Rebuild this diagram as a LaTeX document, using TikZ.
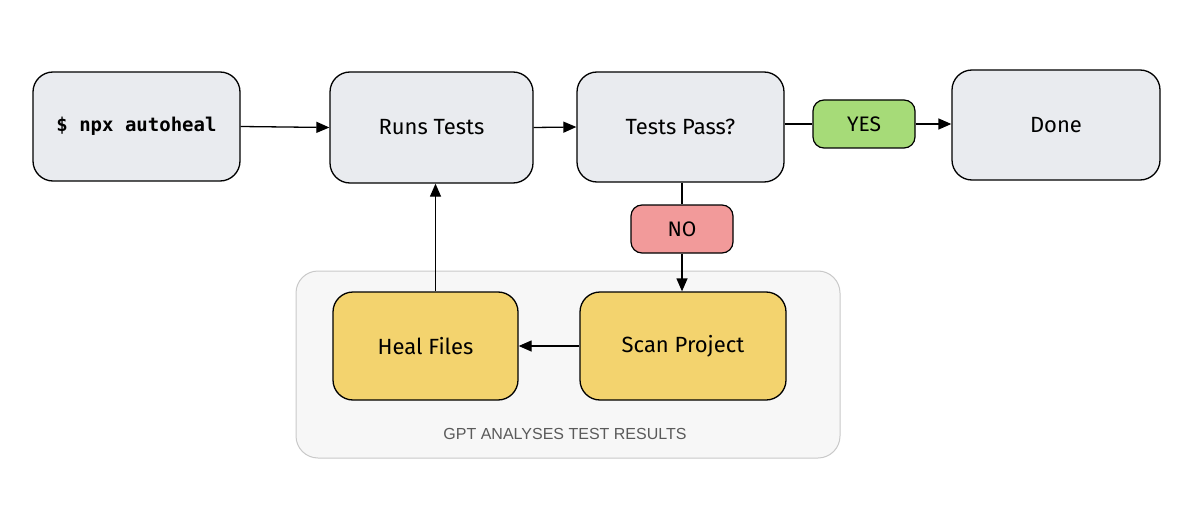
\documentclass[tikz,border=0pt]{standalone}
\usepackage{fontspec}
\setmainfont{Fira Sans}
\newfontfamily\codefont{DejaVu Sans Mono}[Scale=1]
\newfontfamily\grpfont{Liberation Sans}
\usetikzlibrary{arrows.meta}
\definecolor{boxgray}{HTML}{E9EBEF}
\definecolor{boxyellow}{HTML}{F3D36E}
\definecolor{boxgreen}{HTML}{A6DB78}
\definecolor{boxred}{HTML}{F29A9A}
\definecolor{grpfill}{HTML}{F7F7F7}
\definecolor{grpline}{HTML}{C9C9C9}
\definecolor{grptext}{HTML}{5A5A5A}
\tikzset{
  x=1pt, y=-1pt,
  box/.style={draw=black, line width=1.3pt, rounded corners=20pt, inner sep=0pt, font=\fontsize{22}{24}\selectfont},
  gbox/.style={box, fill=boxgray},
  ybox/.style={box, fill=boxyellow},
  tag/.style={draw=black, line width=1.2pt, rounded corners=11pt, inner sep=0pt, font=\fontsize{21}{24}\selectfont},
  flow/.style={draw=black, line width=1.3pt, -{Triangle[length=13pt,width=11pt]}},
  link/.style={draw=black, line width=1.3pt},
}
\begin{document}
\begin{tikzpicture}
\useasboundingbox (0,0) rectangle (1199,508);
% group
\node[draw=grpline, fill=grpfill, line width=1pt, rounded corners=22pt, minimum width=544pt, minimum height=187pt] (grp) at (568,364.5) {};
\node[font=\grpfont\fontsize{16}{18}\selectfont, text=grptext] (grplabel) at (565,434) {GPT ANALYSES TEST RESULTS};
% boxes
\node[gbox, minimum width=207pt, minimum height=109pt, font=\codefont\bfseries\fontsize{19}{22}\selectfont] (npx) at (136.5,126.5) {\$ npx autoheal};
\node[gbox, minimum width=203pt, minimum height=111pt] (runs) at (431.5,127.5) {Runs Tests};
\node[gbox, minimum width=207pt, minimum height=110pt] (pass) at (680.5,127) {Tests Pass?};
\node[gbox, minimum width=208pt, minimum height=110pt] (done) at (1056,125) {Done};
\node[tag, fill=boxgreen, minimum width=102pt, minimum height=48pt] (yes) at (864,124) {YES};
\node[tag, fill=boxred, minimum width=102pt, minimum height=48pt] (no) at (682,229) {NO};
\node[ybox, minimum width=185pt, minimum height=108pt] (heal) at (425.5,346) {Heal Files};
\node[ybox, minimum width=206pt, minimum height=108pt] (scan) at (683,346) {Scan Project};
% connectors
\draw[flow] (npx.east) -- (runs.west);
\draw[flow] (runs.east) -- (pass.west);
\draw[link] (pass.east |- yes.west) -- (yes.west);
\draw[flow] (yes.east) -- (done.west |- yes.east);
\draw[link] (pass.south -| no.north) -- (no.north);
\draw[flow] (no.south) -- (scan.north -| no.south);
\draw[flow] (scan.west) -- (heal.east);
\coordinate (healtop) at ([xshift=10pt]heal.north);
\draw[flow] (healtop) -- (runs.south -| healtop);
\end{tikzpicture}
\end{document}
